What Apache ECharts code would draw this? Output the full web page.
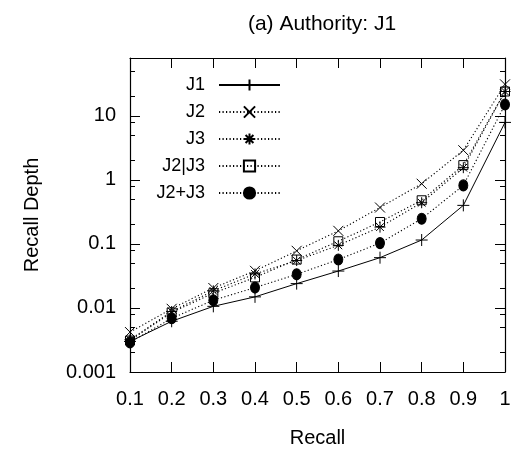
<!DOCTYPE html>
<html><head><meta charset="utf-8">
<script src="https://cdn.jsdelivr.net/npm/echarts@6/dist/echarts.min.js"></script>
<style>html,body{margin:0;padding:0;background:#fff}#c{width:512px;height:455px}</style>
</head><body><div id="c"></div>
<script>
const recall = [0.1,0.2,0.3,0.4,0.5,0.6,0.7,0.8,0.9,1.0];
const J1   = [0.0030,0.0062,0.0106,0.0149,0.024,0.0377,0.061,0.115,0.40,7.9];
const J2   = [0.0042,0.0097,0.0205,0.038,0.078,0.16,0.37,0.87,2.9,31];
const J3   = [0.0032,0.0088,0.0185,0.034,0.055,0.095,0.183,0.44,1.55,24];
const J2orJ3  = [0.0031,0.0085,0.017,0.030,0.057,0.11,0.22,0.48,1.7,24];
const J2plusJ3 = [0.0029,0.0069,0.0132,0.0208,0.0335,0.057,0.103,0.247,0.82,15];
const seriesNames = ['J1','J2','J3','J2|J3','J2+J3'];
const yMajor = [0.001,0.01,0.1,1,10];
const yMinor = [0.002,0.005,0.008,0.02,0.05,0.08,0.2,0.5,0.8,2,5,8,20,50];

const FONT = '"Liberation Sans", Arial, sans-serif';
const FS = 20;
const FS_LEG = 18;
const FS_TITLE = 21;

const pair = a => recall.map((r,i)=>[r,a[i]]);
const PLUS = 'path://M0,5L10,5M5,0L5,10';
const CROSS = 'path://M0,0L10,10M10,0L0,10';
const STAR = 'path://M0,5L10,5M5,0L5,10M1.5,1.5L8.5,8.5M8.5,1.5L1.5,8.5';
const SQUARE = 'path://M0,0L10,0L10,10L0,10Z';
const dotted = {type:[1.2,2.3], width:1.1, color:'#000'};
const solid = {type:'solid', width:1, color:'#000'};

function mk(name, data, sym, size, line, filled){
  return {
    name, type:'line', data:pair(data), xAxisIndex:0, yAxisIndex:0,
    symbol:sym, symbolSize:size, showSymbol:true, animation:false,
    lineStyle:line,
    itemStyle:{color: filled ? '#000' : 'rgba(0,0,0,0)', borderColor:'#000', borderWidth:1},
    emphasis:{disabled:true}, z: 2
  };
}

const baseY = {type:'log', logBase:10, min:0.001, max:80, splitLine:{show:false}};
const baseX = {type:'value', min:0.1, max:1.0, interval:0.1, splitLine:{show:false}};

const option = {
  backgroundColor:'#fff',
  animation:false,
  title:{text:'(a) Authority: J1', left:317, textAlign:'center', top:9,
    textStyle:{fontFamily:FONT, fontSize:FS_TITLE, fontWeight:'normal', color:'#000'}},
  legend:{
    orient:'vertical', left:145, top:75, padding:0, itemGap:7, align:'right',
    itemWidth:61, itemHeight:14,
    data: seriesNames,
    textStyle:{fontFamily:FONT, fontSize:FS_LEG, color:'#000', width:60, align:'right', lineHeight:20, padding:[0,9,0,0]}
  },
  grid:{left:130, top:58, right:7, bottom:83, outerBoundsMode:'none'},
  xAxis:[
    Object.assign({}, baseX, {position:'bottom',
      name:'Recall', nameLocation:'middle', nameGap:56,
      nameTextStyle:{fontFamily:FONT, fontSize:FS, color:'#000'},
      axisLine:{lineStyle:{color:'#000', width:1.2}},
      axisTick:{inside:true, length:10, lineStyle:{color:'#000'}},
      axisLabel:{fontFamily:FONT, fontSize:FS, color:'#000', margin:17,
        formatter:v=>String(+v.toFixed(1))}}),
    Object.assign({}, baseX, {position:'top',
      axisLine:{lineStyle:{color:'#000', width:1.2}},
      axisTick:{inside:true, length:10, lineStyle:{color:'#000'}},
      axisLabel:{show:false}})
  ],
  yAxis:[
    Object.assign({}, baseY, {position:'left',
      name:'Recall Depth', nameLocation:'middle', nameGap:88, nameRotate:90,
      nameTextStyle:{fontFamily:FONT, fontSize:FS, color:'#000'},
      axisLine:{show:true, lineStyle:{color:'#000', width:1.2}},
      axisTick:{inside:true, length:10, lineStyle:{color:'#000'}, customValues:yMajor},
      axisLabel:{fontFamily:FONT, fontSize:FS, color:'#000', margin:14, customValues:yMajor,
        formatter:v=>String(+(+v).toPrecision(3))}}),
    Object.assign({}, baseY, {position:'left',
      axisLine:{show:false},
      axisTick:{inside:true, length:5, lineStyle:{color:'#000'}, customValues:yMinor},
      axisLabel:{show:false}}),
    Object.assign({}, baseY, {position:'right',
      axisLine:{show:true, lineStyle:{color:'#000', width:1.2}},
      axisTick:{inside:true, length:10, lineStyle:{color:'#000'}, customValues:yMajor},
      axisLabel:{show:false}}),
    Object.assign({}, baseY, {position:'right',
      axisLine:{show:false},
      axisTick:{inside:true, length:5, lineStyle:{color:'#000'}, customValues:yMinor},
      axisLabel:{show:false}})
  ],
  series:[
    mk('J1', J1, PLUS, 12, solid, false),
    mk('J2', J2, CROSS, 10, dotted, false),
    mk('J3', J3, STAR, 11, dotted, false),
    mk('J2|J3', J2orJ3, SQUARE, 9, dotted, false),
    mk('J2+J3', J2plusJ3, 'circle', [9,11], dotted, true)
  ]
};
const chart = echarts.init(document.getElementById('c'), null, {renderer:'canvas'});
chart.setOption(option);
</script></body></html>
